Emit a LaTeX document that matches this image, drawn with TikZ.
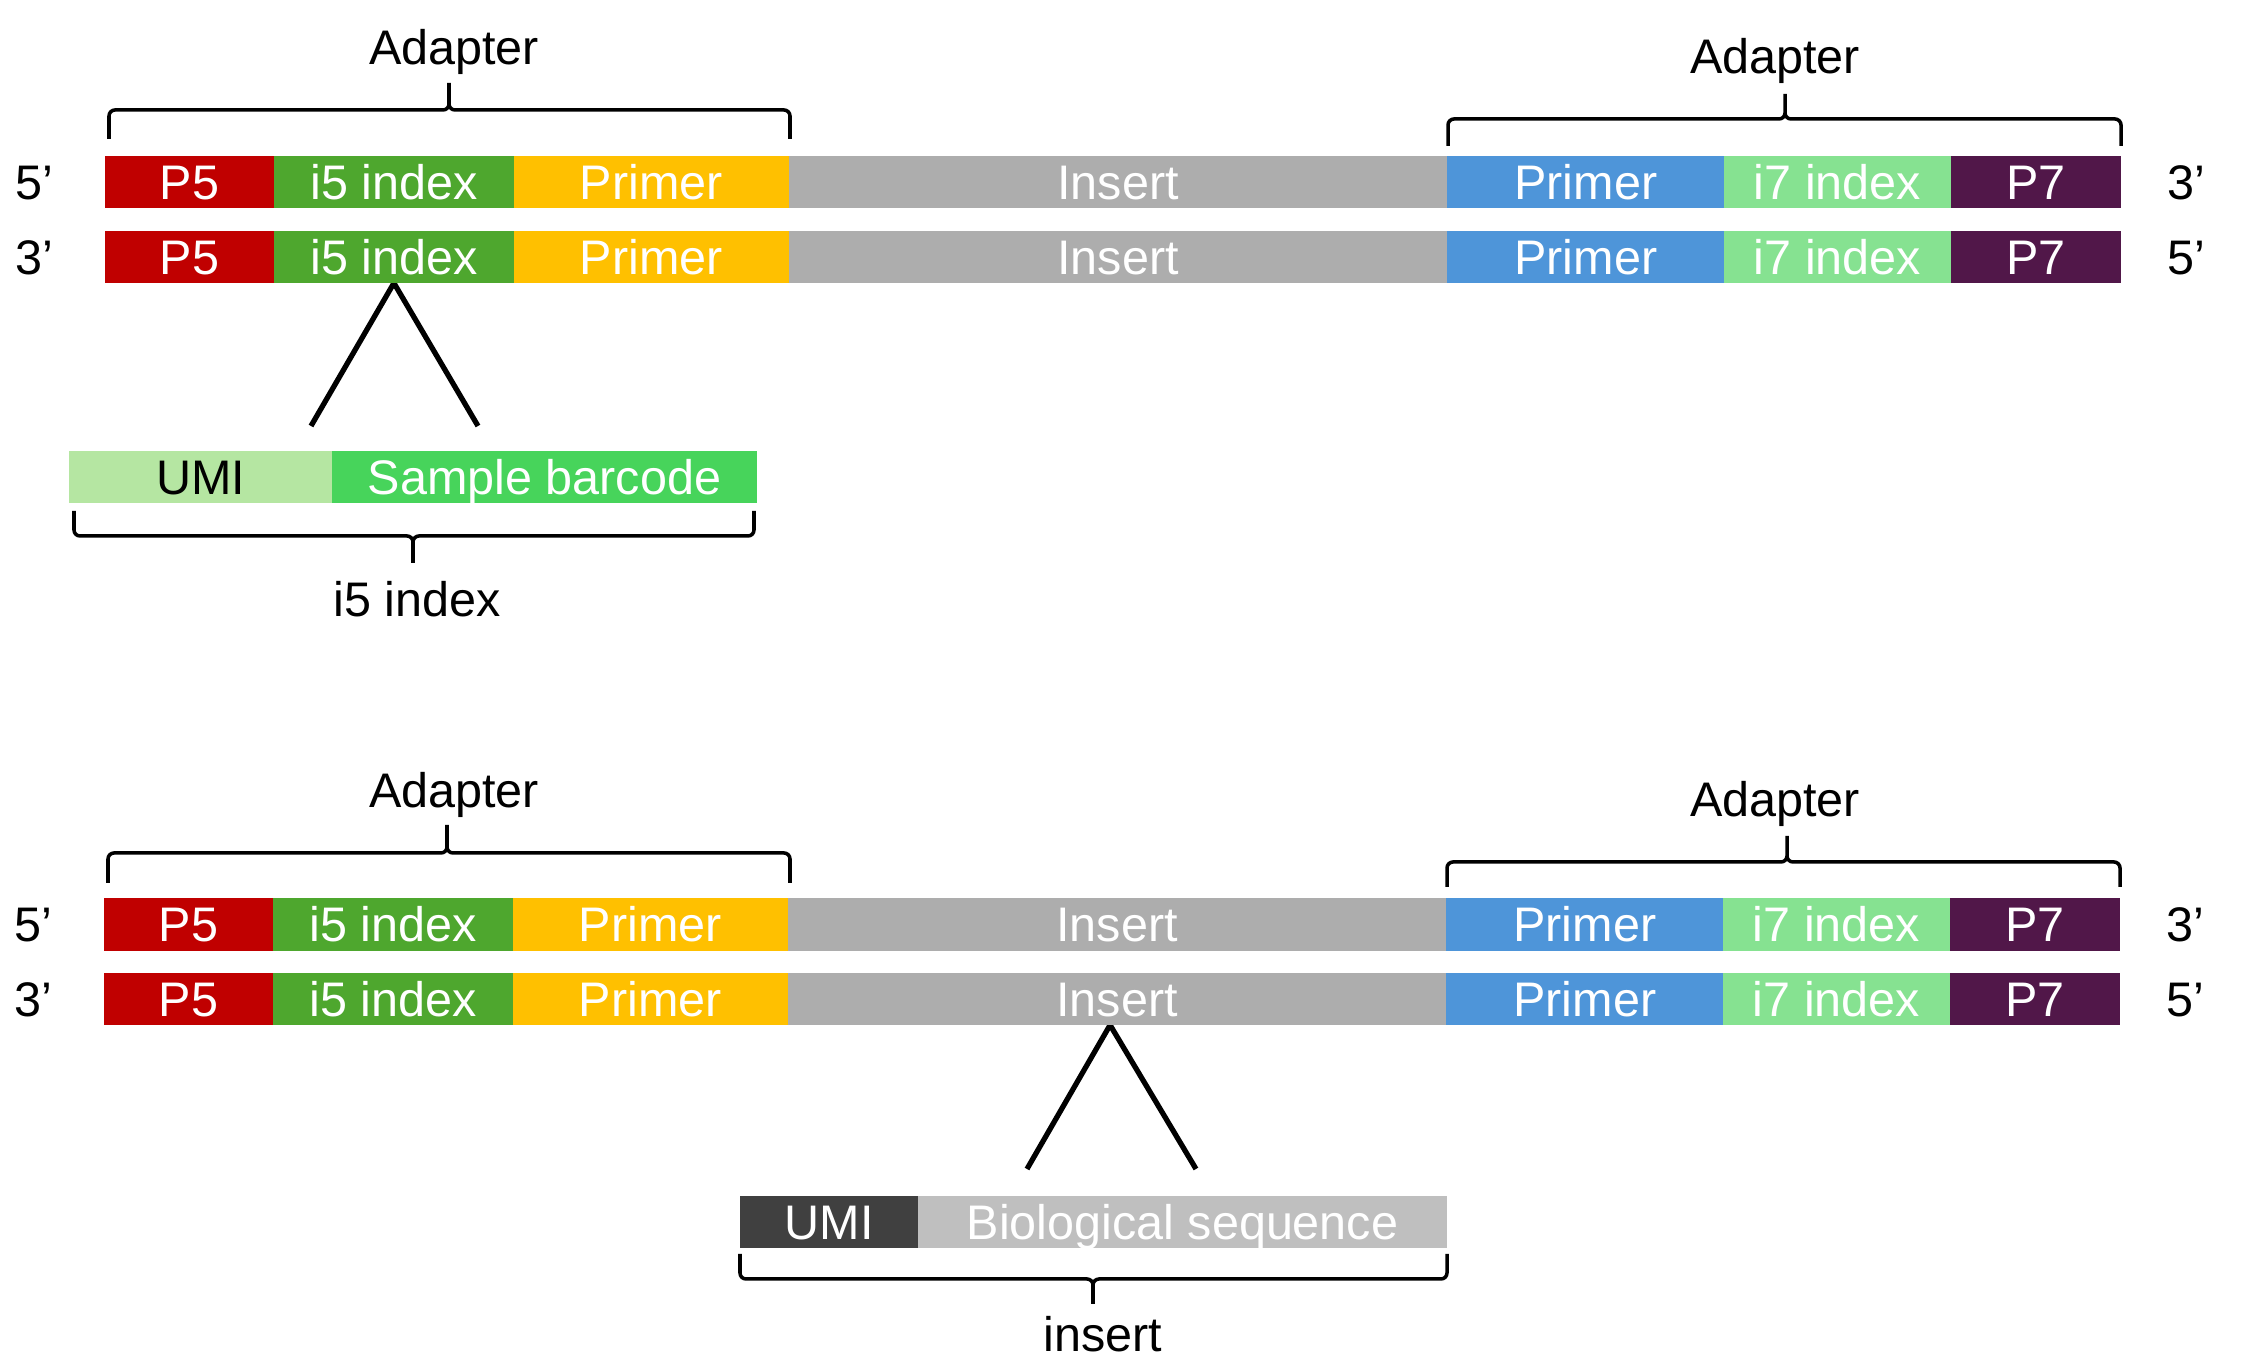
\documentclass[tikz,border=0pt]{standalone}
\usepackage{fontspec}
\setmainfont{Liberation Sans}
\usepackage{tikz}
\usetikzlibrary{positioning,backgrounds}
\tikzstyle{every picture}+=[font=\fontsize{13.8}{16}\selectfont]
\definecolor{p5red}{HTML}{C00000}
\definecolor{i5green}{HTML}{4EA72E}
\definecolor{primeryellow}{HTML}{FFC000}
\definecolor{insertgrey}{HTML}{ADADAD}
\definecolor{primerblue}{HTML}{4E95D9}
\definecolor{i7green}{HTML}{86E291}
\definecolor{p7purple}{HTML}{511749}
\definecolor{umilight}{HTML}{B5E6A2}
\definecolor{barcodegreen}{HTML}{47D45B}
\definecolor{umidark}{HTML}{404040}
\definecolor{biogrey}{HTML}{BFBFBF}

\begin{document}
\begin{tikzpicture}
			[x=0.01cm, y=-0.01cm,
			seg/.style		= {rectangle, inner sep=0pt, outer sep=0pt, minimum height=5.2mm, text height=9.8pt, text depth=0pt, text=white},
			p5box/.style	= {seg, fill=p5red, minimum width=16.9mm},
			i5box/.style	= {seg, fill=i5green, minimum width=23.95mm},
			pr5box/.style	= {seg, fill=primeryellow, minimum width=27.5mm},
			insbox/.style	= {seg, fill=insertgrey, minimum width=65.8mm},
			pr7box/.style	= {seg, fill=primerblue, minimum width=27.7mm},
			i7box/.style	= {seg, fill=i7green, minimum width=22.6mm},
			p7box/.style	= {seg, fill=p7purple, minimum width=17.05mm},
			endlabel/.style	= {inner sep=0pt, outer sep=0pt, text height=9.8pt, text depth=0pt},
			brc/.style		= {draw, line width=1pt, rounded corners=0.6mm},
			vline/.style	= {draw, line width=1.5pt}]

			\useasboundingbox (0,0) rectangle (2253,1371);

			% upper molecule
			\node [p5box, anchor=west]		at (105,182)	(t1p5)	{P5};
			\node [i5box, right=0pt of t1p5]				(t1i5)	{i5 index};
			\node [pr5box, right=0pt of t1i5]				(t1pr)	{Primer};
			\node [insbox, right=0pt of t1pr]				(t1ins)	{Insert};
			\node [pr7box, right=0pt of t1ins]				(t1pb)	{Primer};
			\node [i7box, right=0pt of t1pb]				(t1i7)	{i7 index};
			\node [p7box, right=0pt of t1i7]				(t1p7)	{P7};

			\node [p5box, anchor=west]		at (105,257)	(t2p5)	{P5};
			\node [i5box, right=0pt of t2p5]				(t2i5)	{i5 index};
			\node [pr5box, right=0pt of t2i5]				(t2pr)	{Primer};
			\node [insbox, right=0pt of t2pr]				(t2ins)	{Insert};
			\node [pr7box, right=0pt of t2ins]				(t2pb)	{Primer};
			\node [i7box, right=0pt of t2pb]				(t2i7)	{i7 index};
			\node [p7box, right=0pt of t2i7]				(t2p7)	{P7};

			\node [endlabel, left=5.2mm of t1p5]	(t1l)	{5’};
			\node [endlabel, right=4.6mm of t1p7]	(t1r)	{3’};
			\node [endlabel, left=5.2mm of t2p5]	(t2l)	{3’};
			\node [endlabel, right=4.6mm of t2p7]	(t2r)	{5’};

			\draw [brc] (109,139) -- (109,110) -- (449,110) -- (449,83) (449,83) -- (449,110) -- (790,110) -- (790,139);
			\draw [brc] (1448,146) -- (1448,119) -- (1785,119) -- (1785,94) (1785,94) -- (1785,119) -- (2121,119) -- (2121,146);
			\node [anchor=base] at (454,65)		(tad1)	{Adapter};
			\node [anchor=base] at (1775,74)	(tad2)	{Adapter};

			% i5 index detail
			\node [seg, fill=umilight, text=black, minimum height=5.1mm, minimum width=26.3mm, anchor=west] at (69,477) (tumi) {UMI};
			\node [seg, fill=barcodegreen, minimum height=5.1mm, minimum width=42.46mm, right=0pt of tumi] (tbar) {Sample barcode};
			\coordinate (tvl) at (311,426);
			\coordinate (tvr) at (478,426);
			\begin{scope}[on background layer]
				\draw [vline] (tvl) -- (t2i5.south) -- (tvr);
			\end{scope}
			\draw [brc] (74,511) -- (74,536) -- (413,536) -- (413,563) (413,563) -- (413,536) -- (754,536) -- (754,511);
			\node [anchor=base] at (417,617)	(tidx)	{i5 index};

			% lower molecule
			\node [p5box, anchor=west]		at (104,924.5)	(b1p5)	{P5};
			\node [i5box, right=0pt of b1p5]				(b1i5)	{i5 index};
			\node [pr5box, right=0pt of b1i5]				(b1pr)	{Primer};
			\node [insbox, right=0pt of b1pr]				(b1ins)	{Insert};
			\node [pr7box, right=0pt of b1ins]				(b1pb)	{Primer};
			\node [i7box, right=0pt of b1pb]				(b1i7)	{i7 index};
			\node [p7box, right=0pt of b1i7]				(b1p7)	{P7};

			\node [p5box, anchor=west]		at (104,999)	(b2p5)	{P5};
			\node [i5box, right=0pt of b2p5]				(b2i5)	{i5 index};
			\node [pr5box, right=0pt of b2i5]				(b2pr)	{Primer};
			\node [insbox, right=0pt of b2pr]				(b2ins)	{Insert};
			\node [pr7box, right=0pt of b2ins]				(b2pb)	{Primer};
			\node [i7box, right=0pt of b2pb]				(b2i7)	{i7 index};
			\node [p7box, right=0pt of b2i7]				(b2p7)	{P7};

			\node [endlabel, left=5.2mm of b1p5]	(b1l)	{5’};
			\node [endlabel, right=4.6mm of b1p7]	(b1r)	{3’};
			\node [endlabel, left=5.2mm of b2p5]	(b2l)	{3’};
			\node [endlabel, right=4.6mm of b2p7]	(b2r)	{5’};

			\draw [brc] (108,883) -- (108,853) -- (447,853) -- (447,825) (447,825) -- (447,853) -- (790,853) -- (790,883);
			\draw [brc] (1447,887) -- (1447,862) -- (1787,862) -- (1787,836) (1787,836) -- (1787,862) -- (2120,862) -- (2120,887);
			\node [anchor=base] at (454,808)	(bad1)	{Adapter};
			\node [anchor=base] at (1775,817)	(bad2)	{Adapter};

			% insert detail
			\node [seg, fill=umidark, minimum height=5.2mm, minimum width=17.8mm, anchor=west] at (740,1222) (bumi) {UMI};
			\node [seg, fill=biogrey, minimum height=5.2mm, minimum width=52.85mm, right=0pt of bumi] (bbio) {Biological sequence};
			\coordinate (bvl) at (1027,1169);
			\coordinate (bvr) at (1196,1169);
			\begin{scope}[on background layer]
				\draw [vline] (bvl) -- ([xshift=-0.07cm]b2ins.south) -- (bvr);
			\end{scope}
			\draw [brc] (740,1254) -- (740,1279) -- (1093,1279) -- (1093,1304) (1093,1304) -- (1093,1279) -- (1447,1279) -- (1447,1254);
			\node [anchor=base] at (1103,1352)	(bins)	{insert};
\end{tikzpicture}
\end{document}
